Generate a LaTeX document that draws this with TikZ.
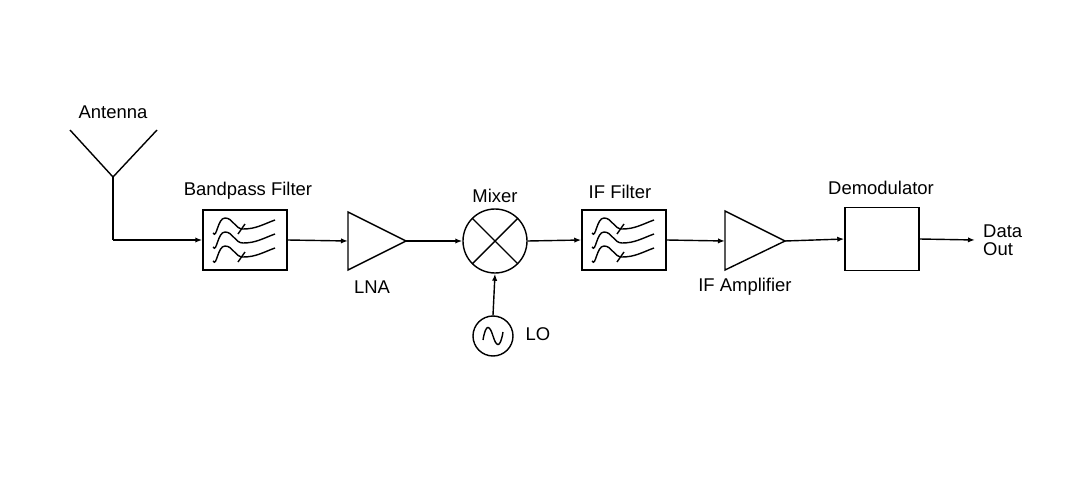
\documentclass[tikz,border=0pt]{standalone}
\usepackage{fontspec}
\setmainfont{Liberation Sans}
\usetikzlibrary{arrows.meta}

\tikzset{
    block/.style={draw, thick, minimum width=84*0.02cm, minimum height=60*0.02cm, inner sep=0pt},
    sig/.style={thick, -{Latex[length=4pt,width=3pt]}},
    lbl/.style={font=\fontsize{10.5}{12}\selectfont},
    pics/filtersym/.style={code={
        \foreach \dy in {-14,0,14} {
            \draw[thick] (-32,\dy+7) to[out=-60,in=180] (-20,\dy-8) to[out=0,in=180] (-2,\dy+3) to[out=0,in=200] (30,\dy-6);
        }
        % ticks on upper and lower curves
        \draw[thick] (-7,-6) -- (0,-16);
        \draw[thick] (-7,22) -- (0,12);
    }}
}

\begin{document}
\begin{tikzpicture}[x=0.02cm, y=-0.02cm]
    \useasboundingbox (0,0) rectangle (1086,480);

    % Antenna
    \coordinate (antL) at (70,130);
    \coordinate (antR) at (157,130);
    \coordinate (ant) at (113,177);
    \coordinate (antB) at (113,240);
    \draw[thick] (antL) -- (ant) -- (antR);
    \draw[thick] (ant) -- (antB);
    \node[lbl] (antlbl) at (113,112) {Antenna};

    % Bandpass filter
    \node[block] (bpf) at (245,240) {};
    \pic at (bpf) {filtersym};
    \node[lbl] (bpflbl) at (248,191) {Bandpass Filter};

    % LNA
    \coordinate (lna) at (348,241);
    \draw[thick] (348,212) -- (406,241) -- (348,270) -- cycle;
    \coordinate (lnaOut) at (406,241);
    \node[lbl] (lnalbl) at (372,287) {LNA};

    % Mixer
    \node[draw, thick, circle, minimum size=64*0.02cm, inner sep=0pt] (mix) at (495,241) {};
    \draw[thick] (mix.north west) -- (mix.south east);
    \draw[thick] (mix.north east) -- (mix.south west);
    \node[lbl] (mixlbl) at (495,196) {Mixer};

    % Local oscillator
    \node[draw, thick, circle, minimum size=40*0.02cm, inner sep=0pt] (lo) at (493,336) {};
    \draw[thick] (483,340) .. controls (486,322) and (490,326) .. (493,336) .. controls (496,346) and (500,350) .. (503,332);
    \node[lbl] (lolbl) at (538,334) {LO};

    % IF filter
    \node[block] (iff) at (624,240) {};
    \pic at (iff) {filtersym};
    \node[lbl] (ifflbl) at (620,192) {IF Filter};

    % IF amplifier
    \coordinate (ifa) at (725,241);
    \draw[thick] (725,211) -- (785,241) -- (725,270) -- cycle;
    \coordinate (ifaOut) at (785,241);
    \node[lbl] (ifalbl) at (745,287) {IF Amplifier};

    % Demodulator
    \node[draw, thick, minimum width=74*0.02cm, minimum height=63*0.02cm] (dem) at (882,239) {};
    \node[lbl] (demlbl) at (881,188) {Demodulator};

    % Output
    \coordinate (out) at (975,240);
    \node[lbl, align=left, anchor=west] (outlbl) at (977,240) {Data\\[-2pt]Out};

    % Signal path
    \draw[sig] (antB) -- (bpf.west);
    \draw[sig] (bpf.east) -- (lna);
    \draw[sig] (lnaOut) -- (mix.west);
    \draw[sig] (lo.north) -- (mix.south);
    \draw[sig] (mix.east) -- (iff.west);
    \draw[sig] (iff.east) -- (ifa);
    \draw[sig] (ifaOut) -- (dem.west);
    \draw[sig] (dem.east) -- (out);
\end{tikzpicture}
\end{document}
